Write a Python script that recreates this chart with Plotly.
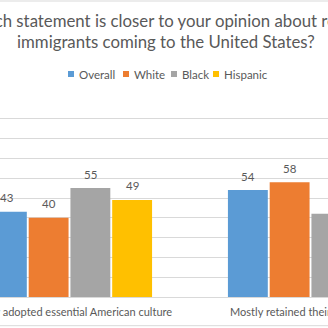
import plotly.graph_objects as go

categories = ["Mostly adopted essential American culture", "Mostly retained their own culture"]
series_names = ["Overall", "White", "Black", "Hispanic"]
overall = [43, 54]
white = [40, 58]
black = [55, 42]
hispanic = [49, 48]
title_lines = ["Which statement is closer to your opinion about recent",
               "immigrants coming to the United States?"]

colors = ["#5B9BD5", "#ED7D31", "#A5A5A5", "#FFC000"]
values = [overall, white, black, hispanic]
FONT = "Lato"
TXT = "#595959"

W, H = 328, 328
M_T, M_B = 99, 31
plot_h = H - M_T - M_B
cat_px = 241.0
c0_px = 69.5
x_range = [-c0_px / cat_px, (W - c0_px) / cat_px]
bargap = 0.307
slot = (1 - bargap) / len(series_names)


def py(p):
    return (H - M_B - p) / plot_h


xs = list(range(len(categories)))
fig = go.Figure()
for name, vals, col in zip(series_names, values, colors):
    fig.add_trace(go.Bar(x=xs, y=vals, name=name, marker=dict(color=col, line=dict(width=0)),
                         showlegend=False, hoverinfo="skip"))

# data labels
for j, vals in enumerate(values):
    for i, v in enumerate(vals):
        fig.add_annotation(x=i + (j - 1.5) * slot, y=v, xref="x", yref="y", text=str(v),
                           showarrow=False, yanchor="middle", yshift=14,
                           font=dict(family=FONT, size=11.5, color=TXT))

# title as two centered lines
for line, yp in zip(title_lines, [20.7, 41.7]):
    fig.add_annotation(x=166.5 / W, y=py(yp), xref="paper", yref="paper", text=line,
                       showarrow=False, xanchor="center", yanchor="middle",
                       font=dict(family=FONT, size=16.8, color=TXT))

# legend (manual, Excel-like small squares)
leg_y_px = 74
leg_items_px = [68, 123, 171, 213]
for name, col, xp in zip(series_names, colors, leg_items_px):
    fig.add_shape(type="rect", xref="paper", yref="paper",
                  x0=xp / W, x1=(xp + 6) / W,
                  y0=py(leg_y_px + 3), y1=py(leg_y_px - 3),
                  fillcolor=col, line=dict(width=0))
    fig.add_annotation(x=(xp + 9) / W, y=py(leg_y_px), xref="paper", yref="paper",
                       text=name, showarrow=False, xanchor="left", yanchor="middle",
                       font=dict(family=FONT, size=11.5, color=TXT))

# chart border lines (top & bottom visible parts)
for yp in [1, 325.7]:
    fig.add_shape(type="line", xref="paper", yref="paper", x0=0, x1=1,
                  y0=py(yp), y1=py(yp), line=dict(color="#D9D9D9", width=1))

fig.update_layout(
    width=W, height=H,
    margin=dict(l=0, r=0, t=M_T, b=M_B, autoexpand=False),
    paper_bgcolor="white", plot_bgcolor="white",
    barmode="group", bargap=bargap, bargroupgap=0.045,
    xaxis=dict(range=x_range, tickvals=xs, ticktext=categories, showgrid=False,
               showline=True, linecolor="#D9D9D9", linewidth=1, ticks="",
               ticklabeloverflow="allow", ticklabelstandoff=5,
               tickfont=dict(family=FONT, size=11, color=TXT), automargin=False, zeroline=False),
    yaxis=dict(range=[0, 100], dtick=10, showgrid=True, gridcolor="#D9D9D9", gridwidth=1,
               showticklabels=False, zeroline=False, showline=False, automargin=False),
    showlegend=False,
)
fig.write_html("out.html")
